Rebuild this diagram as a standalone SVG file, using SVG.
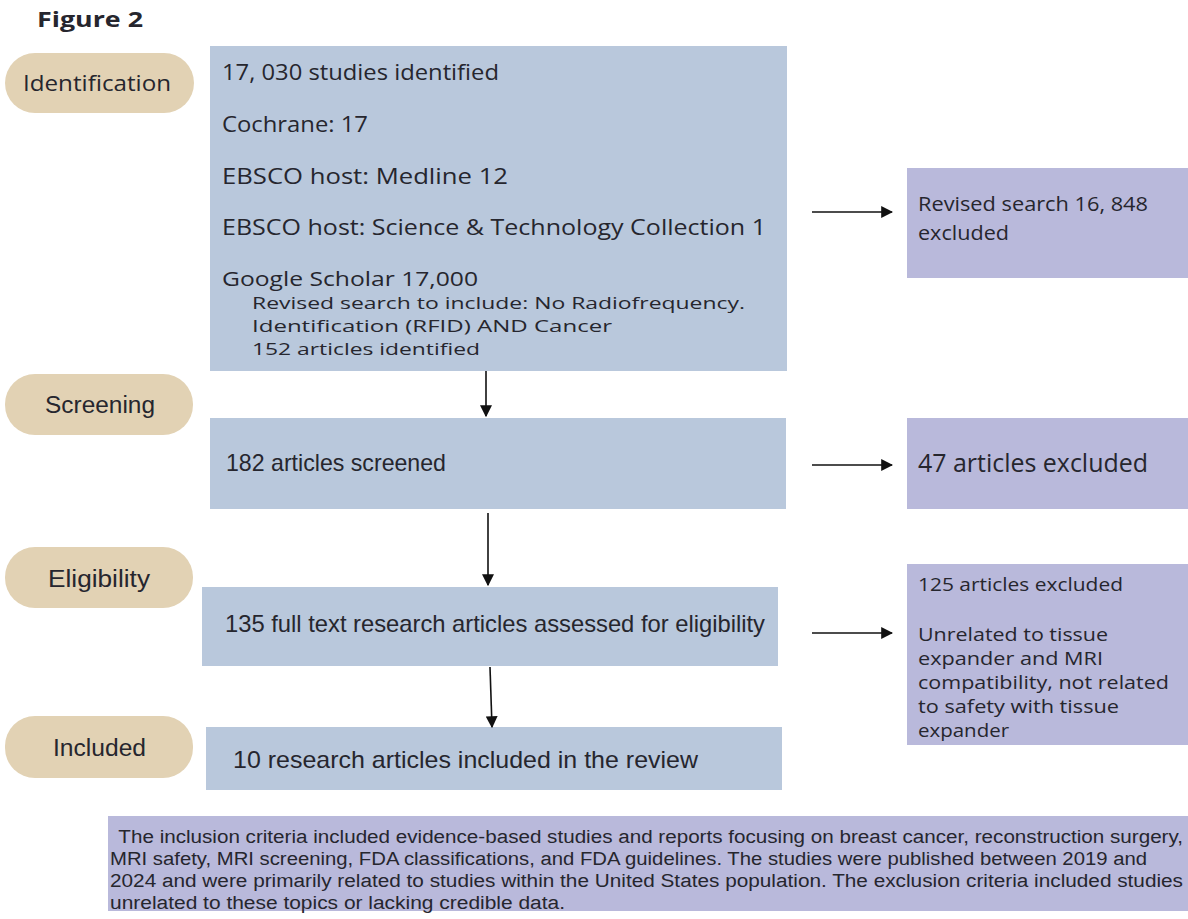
<svg xmlns="http://www.w3.org/2000/svg" width="1188" height="919" viewBox="0 0 1188 919">
<style>
.pill{fill:#e2d2b4}
.box{fill:#b9c8dc}
.exc{fill:#b9b9db}
.t{font-family:"Open Sans","Liberation Sans",sans-serif;fill:#26262e}
.c{font-family:"Liberation Sans",Arial,sans-serif;fill:#26262e}
.ln{stroke:#111;stroke-width:1.6;fill:none}
</style>
<defs>
<marker id="ah" viewBox="0 0 10 10" refX="9" refY="5" markerWidth="12" markerHeight="12" markerUnits="userSpaceOnUse" orient="auto">
<path d="M0,0 L10,5 L0,10 z" fill="#111"/>
</marker>
</defs>
<rect width="1188" height="919" fill="#ffffff"/>
<text class="t" x="37" y="27" font-size="22" font-weight="bold" fill="#111" textLength="106" lengthAdjust="spacingAndGlyphs">Figure 2</text>

<g id="pill-identification"><rect class="pill" x="5" y="53" width="189" height="60" rx="30"/><text class="t" x="23" y="91" font-size="22" textLength="148" lengthAdjust="spacingAndGlyphs">Identification</text></g>
<g id="pill-screening"><rect class="pill" x="5" y="374" width="188" height="61" rx="30"/><text class="c" x="45" y="413" font-size="23" textLength="110" lengthAdjust="spacingAndGlyphs">Screening</text></g>
<g id="pill-eligibility"><rect class="pill" x="5" y="547" width="188" height="61" rx="30"/><text class="c" x="48" y="587" font-size="23" textLength="102" lengthAdjust="spacingAndGlyphs">Eligibility</text></g>
<g id="pill-included"><rect class="pill" x="5" y="716" width="188" height="62" rx="30"/><text class="c" x="53" y="756" font-size="23" textLength="93" lengthAdjust="spacingAndGlyphs">Included</text></g>

<g id="box-identified">
<rect class="box" x="210" y="46" width="577" height="325"/>
<text class="t" x="222" y="80" font-size="21" textLength="277" lengthAdjust="spacingAndGlyphs">17, 030 studies identified</text>
<text class="t" x="222" y="132" font-size="21" textLength="146" lengthAdjust="spacingAndGlyphs">Cochrane:  17</text>
<text class="t" x="222" y="184" font-size="21" textLength="286" lengthAdjust="spacingAndGlyphs">EBSCO host: Medline   12</text>
<text class="t" x="222" y="235" font-size="21" textLength="544" lengthAdjust="spacingAndGlyphs">EBSCO host: Science &amp; Technology Collection  1</text>
<text class="t" x="222" y="286" font-size="20" textLength="256" lengthAdjust="spacingAndGlyphs">Google Scholar  17,000</text>
<text class="t" x="252" y="309" font-size="17" textLength="493" lengthAdjust="spacingAndGlyphs">Revised search to include: No Radiofrequency.</text>
<text class="t" x="252" y="332" font-size="17" textLength="360" lengthAdjust="spacingAndGlyphs">Identification (RFID) AND Cancer</text>
<text class="t" x="252" y="355" font-size="17" textLength="228" lengthAdjust="spacingAndGlyphs">152 articles identified</text>
</g>

<g id="box-screened"><rect class="box" x="210" y="418" width="576" height="91"/><text class="c" x="226" y="471" font-size="24" textLength="220" lengthAdjust="spacingAndGlyphs">182 articles screened</text></g>
<g id="box-eligibility"><rect class="box" x="202" y="587" width="576" height="79"/><text class="c" x="225" y="632" font-size="24" textLength="540" lengthAdjust="spacingAndGlyphs">135 full text research articles assessed for eligibility</text></g>
<g id="box-included"><rect class="box" x="206" y="727" width="576" height="63"/><text class="c" x="233" y="768" font-size="24" textLength="465" lengthAdjust="spacingAndGlyphs">10 research articles included in the review</text></g>

<g id="box-excluded1"><rect class="exc" x="907" y="168" width="281" height="110"/>
<text class="t" x="918" y="211" font-size="20" textLength="230" lengthAdjust="spacingAndGlyphs">Revised search 16, 848</text>
<text class="t" x="918" y="240" font-size="20" textLength="91" lengthAdjust="spacingAndGlyphs">excluded</text></g>
<g id="box-excluded2"><rect class="exc" x="907" y="418" width="281" height="91"/>
<text class="t" x="918" y="472" font-size="25" textLength="230" lengthAdjust="spacingAndGlyphs">47 articles excluded</text></g>
<g id="box-excluded3"><rect class="exc" x="907" y="564" width="281" height="181"/>
<text class="t" x="918" y="591" font-size="19" textLength="205" lengthAdjust="spacingAndGlyphs">125 articles excluded</text>
<text class="t" x="918" y="641" font-size="19" textLength="190" lengthAdjust="spacingAndGlyphs">Unrelated to tissue</text>
<text class="t" x="918" y="665" font-size="19" textLength="185" lengthAdjust="spacingAndGlyphs">expander and MRI</text>
<text class="t" x="918" y="689" font-size="19" textLength="251" lengthAdjust="spacingAndGlyphs">compatibility, not related</text>
<text class="t" x="918" y="713" font-size="19" textLength="201" lengthAdjust="spacingAndGlyphs">to safety with tissue</text>
<text class="t" x="918" y="737" font-size="19" textLength="91" lengthAdjust="spacingAndGlyphs">expander</text></g>

<g id="box-criteria"><rect class="exc" x="108" y="816" width="1080" height="95"/>
<text class="c" x="113" y="843" font-size="18" textLength="1070" lengthAdjust="spacingAndGlyphs" xml:space="preserve"> The inclusion criteria included evidence-based studies and reports focusing on breast cancer, reconstruction surgery,</text>
<text class="c" x="110" y="865" font-size="18" textLength="1037" lengthAdjust="spacingAndGlyphs">MRI safety, MRI screening, FDA classifications, and FDA guidelines. The studies were published between 2019 and</text>
<text class="c" x="110" y="887" font-size="18" textLength="1073" lengthAdjust="spacingAndGlyphs">2024 and were primarily related to studies within the United States population. The exclusion criteria included studies</text>
<text class="c" x="110" y="909" font-size="18" textLength="455" lengthAdjust="spacingAndGlyphs">unrelated to these topics or lacking credible data.</text></g>

<g id="connectors">
<line class="ln" x1="486" y1="371" x2="486" y2="416" marker-end="url(#ah)"/>
<line class="ln" x1="488" y1="513" x2="488" y2="585" marker-end="url(#ah)"/>
<line class="ln" x1="490" y1="667" x2="492" y2="727" marker-end="url(#ah)"/>
<line class="ln" x1="812" y1="212" x2="892" y2="212" marker-end="url(#ah)"/>
<line class="ln" x1="812" y1="465" x2="892" y2="465" marker-end="url(#ah)"/>
<line class="ln" x1="812" y1="633" x2="892" y2="633" marker-end="url(#ah)"/>
</g>
</svg>
